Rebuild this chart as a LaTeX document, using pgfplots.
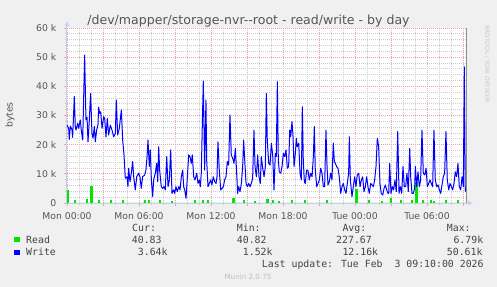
\documentclass[border=0pt]{standalone}
\usepackage{fontspec}
\setmainfont{DejaVu Sans}
\newfontfamily\monofont{DejaVu Sans Mono}
\usepackage{pgfplots}
\pgfplotsset{compat=1.18}
\usetikzlibrary{arrows.meta}
\definecolor{bgc}{HTML}{F0F0F0}
\definecolor{fontc}{HTML}{555555}
\definecolor{legc}{HTML}{444444}
\definecolor{axisc}{HTML}{C8CDF5}
\definecolor{mgrid}{HTML}{E4A8A8}
\definecolor{ngrid}{HTML}{CCCCCC}
\definecolor{readg}{HTML}{00E600}
\definecolor{writeb}{HTML}{0000FF}
\begin{document}
\begin{tikzpicture}
\useasboundingbox (-67bp,-84bp) rectangle (430bp,203bp);
\fill[bgc] (-67bp,-84bp) rectangle (430bp,203bp);
\begin{axis}[
  scale only axis, width=399bp, height=175bp,
  xmin=0, xmax=33.25, ymin=0, ymax=60,
  enlargelimits=false,
  axis background/.style={fill=white},
  axis x line=bottom, axis y line=left,
  x axis line style={color=axisc, line width=1bp, -{Latex[length=5bp,width=5bp]}, shorten >=-7bp},
  y axis line style={color=axisc, line width=1bp, -{Latex[length=5bp,width=5bp]}, shorten >=-7bp},
  xtick={0,3,...,33},
  xticklabels={Mon 00:00,,Mon 06:00,,Mon 12:00,,Mon 18:00,,Tue 00:00,,Tue 06:00,},
  ytick={0,10,...,60},
  yticklabels={0,10 k,20 k,30 k,40 k,50 k,60 k},
  minor x tick num=2, minor y tick num=4,
  grid=both,
  major grid style={color=mgrid, dash pattern=on 1bp off 1bp, line width=0.7bp},
  minor grid style={color=ngrid, dash pattern=on 1bp off 1bp, line width=0.7bp},
  tick align=outside,
  major tick length=3bp, minor tick length=2bp,
  major tick style={color=mgrid, line width=0.7bp},
  minor tick style={color=ngrid, line width=0.7bp},
  xticklabel style={font=\fontsize{9.3}{10}\selectfont, color=fontc, anchor=base, inner sep=0pt, yshift=-13.7bp},
  yticklabel style={font=\fontsize{9.3}{10}\selectfont, color=fontc, anchor=east, inner sep=0pt, xshift=-7.5bp},
  extra x ticks={33.25}, extra x tick labels={},
  extra x tick style={grid=major, major grid style={solid, color=black!45, line width=1bp}, major tick length=0pt},
  ylabel={bytes},
  every axis y label/.style={at={(axis description cs:-0.1429,0.503)}, rotate=90, anchor=center, font=\fontsize{9.3}{10}\selectfont, color=fontc},
  clip=true,
]
\addplot[const plot, fill=readg, draw=readg, line width=0.5bp] table {
x y
0.02 4.5
0.14 0.04
0.6 1.0
0.68 0.04
1.6 1.3
1.68 0.04
1.97 5.6
2.09 0.04
2.6 0.8
2.68 0.04
3.6 0.8
3.68 0.04
4.6 0.8
4.68 0.04
6.4 1.0
6.48 0.04
6.8 1.0
6.88 0.04
7.7 1.0
7.78 0.04
8.7 0.6
8.78 0.04
10.6 1.0
10.72 0.04
11.3 0.8
11.38 0.04
11.7 0.8
11.78 0.04
13.75 1.5
13.9 0.04
14.7 0.8
14.78 0.04
15.6 0.6
15.68 0.04
16.6 1.2
16.74 0.04
17.1 0.8
17.18 0.04
17.6 0.5
17.68 0.04
18.7 1.0
18.78 0.04
19.8 0.8
19.88 0.04
21.6 0.8
21.68 0.04
24.02 4.8
24.16 0.04
25.1 1.0
25.18 0.04
26.2 0.6
26.28 0.04
26.9 1.7
26.98 0.04
27.75 0.8
27.83 0.04
28.7 0.8
28.78 0.04
29.06 6.79
29.18 0.04
29.6 1.0
29.68 0.04
30.25 0.8
30.33 0.04
30.5 0.6
30.58 0.04
31.5 0.8
31.62 0.04
32.5 0.8
32.58 0.04
33.25 0.04
} \closedcycle;
\addplot[color=writeb, line width=1bp, line join=round] table {
x y
0 26.7
0.14 25.6
0.19 21.8
0.28 26.4
0.42 25.0
0.47 22.5
0.61 36.5
0.69 26.2
0.75 25.0
0.89 27.3
0.97 25.6
1.11 28.5
1.19 25.0
1.31 21.6
1.47 50.7
1.58 28.5
1.67 29.4
1.75 21.0
1.86 28.5
1.97 37.6
2.08 23.9
2.17 22.2
2.28 26.2
2.36 21.0
2.47 25.0
2.58 26.7
2.64 32.8
2.72 30.7
2.81 31.3
2.92 25.6
3.06 29.6
3.14 29.0
3.25 22.7
3.36 29.0
3.47 23.3
3.61 26.7
3.75 25.0
3.89 22.7
4.03 23.9
4.11 35.3
4.22 23.3
4.36 25.6
4.53 31.9
4.64 21.6
4.75 16.5
4.86 8.5
5.0 9.0
5.08 5.6
5.14 11.9
5.25 7.3
5.36 10.2
5.47 14.2
5.56 9.0
5.69 4.5
5.81 9.0
5.97 10.2
6.08 9.0
6.19 5.0
6.3 9.0
6.47 9.6
6.58 11.3
6.67 15.9
6.75 21.6
6.86 12.5
6.94 18.2
7.03 7.9
7.14 2.2
7.22 7.9
7.36 10.2
7.47 13.6
7.56 7.3
7.64 19.3
7.72 11.3
7.86 5.6
7.97 5.0
8.08 5.6
8.19 4.5
8.31 15.9
8.42 5.6
8.53 7.9
8.64 18.2
8.75 3.3
8.89 4.5
8.97 3.3
9.08 5.6
9.19 3.9
9.31 5.6
9.42 4.5
9.53 9.0
9.64 11.3
9.72 5.6
9.81 4.5
9.92 1.6
10.03 9.0
10.14 16.5
10.25 15.9
10.36 13.6
10.44 16.5
10.56 9.0
10.67 7.9
10.81 10.2
10.92 6.7
11.03 7.9
11.11 5.6
11.19 10.2
11.31 33.0
11.36 41.8
11.47 11.3
11.58 35.3
11.64 14.7
11.75 5.6
11.86 6.7
11.97 7.9
12.08 6.2
12.19 9.0
12.31 7.3
12.42 6.7
12.5 9.0
12.58 21.0
12.69 11.3
12.81 4.5
12.92 5.0
13.03 5.6
13.14 7.9
13.25 9.0
13.36 14.2
13.47 13.0
13.58 30.2
13.69 16.5
13.81 15.3
13.92 13.6
14.03 18.7
14.14 10.2
14.22 3.3
14.31 5.6
14.42 3.9
14.53 6.7
14.64 12.5
14.72 21.6
14.81 14.7
14.92 6.7
15.03 5.6
15.14 6.7
15.25 5.6
15.36 6.7
15.47 8.5
15.58 25.0
15.67 12.5
15.78 9.0
15.89 16.5
16.0 9.0
16.11 6.7
16.19 15.9
16.31 11.9
16.42 9.0
16.53 12.5
16.61 37.6
16.69 21.6
16.81 13.6
16.92 13.0
17.03 20.5
17.14 16.5
17.25 4.5
17.36 17.0
17.44 15.9
17.53 41.6
17.61 14.7
17.69 10.7
17.81 10.2
17.92 12.5
18.03 17.0
18.14 15.9
18.25 18.2
18.36 11.9
18.47 12.5
18.56 25.0
18.64 22.7
18.75 27.9
18.83 23.3
18.92 12.5
19.03 17.0
19.11 22.2
19.19 19.3
19.31 20.5
19.42 10.2
19.53 7.9
19.61 33.0
19.69 14.7
19.78 7.3
19.86 6.7
19.97 11.3
20.08 11.3
20.19 7.9
20.31 10.2
20.42 9.0
20.53 15.9
20.61 26.2
20.69 11.3
20.81 5.6
20.92 6.7
21.03 7.9
21.14 11.9
21.25 10.2
21.36 5.6
21.47 5.6
21.58 25.0
21.67 12.5
21.75 6.2
21.86 7.3
21.97 10.2
22.08 7.9
22.19 20.5
22.28 14.2
22.36 13.6
22.47 12.5
22.58 11.9
22.69 9.0
22.81 3.3
22.92 5.6
23.03 6.7
23.14 4.5
23.25 3.3
23.36 6.7
23.47 10.2
23.53 22.7
23.61 7.9
23.75 2.2
23.86 5.6
23.97 9.0
24.08 5.6
24.19 9.6
24.31 10.2
24.42 5.6
24.53 7.9
24.64 9.0
24.75 3.9
24.86 5.6
24.97 9.0
25.08 5.6
25.19 3.3
25.31 6.7
25.42 6.2
25.53 5.6
25.64 7.9
25.75 12.5
25.86 22.2
25.97 19.3
26.08 6.7
26.19 3.3
26.31 2.7
26.42 5.0
26.53 6.2
26.64 4.5
26.75 3.3
26.81 3.3
26.89 13.6
27.0 3.3
27.11 5.6
27.22 4.5
27.33 7.9
27.44 3.9
27.56 24.5
27.67 3.3
27.78 5.6
27.89 3.3
28.0 12.5
28.11 5.6
28.22 5.6
28.33 10.2
28.44 3.9
28.56 18.7
28.64 9.0
28.75 3.3
28.86 3.3
28.97 5.0
29.03 12.5
29.14 5.6
29.25 10.7
29.36 5.6
29.47 7.9
29.58 25.0
29.69 10.2
29.81 9.6
29.92 11.9
30.03 5.6
30.14 6.7
30.25 7.9
30.36 6.7
30.47 5.6
30.58 25.0
30.69 7.9
30.81 5.6
30.92 6.2
31.03 4.5
31.14 3.3
31.25 6.2
31.36 9.0
31.47 10.2
31.58 24.5
31.69 7.9
31.81 4.5
31.92 6.7
32.03 5.6
32.14 4.5
32.25 6.7
32.36 10.7
32.47 9.0
32.58 13.6
32.69 5.6
32.81 4.5
32.92 9.0
33.03 5.6
33.11 46.7
33.19 3.9
};
\end{axis}
% title and side texts
\node[anchor=base, inner sep=0pt, font=\fontsize{12.6}{14}\selectfont, text=fontc] at (181.5bp,178.7bp) {/dev/mapper/storage-nvr{-}{-}root - read/write - by day};
\node[anchor=west, rotate=-90, inner sep=0pt, font=\fontsize{6}{7}\selectfont, text=black!22] at (420bp,178bp) {RRDTOOL / TOBI OETIKER};
% legend
\begin{scope}[every node/.style={anchor=base west, inner sep=0pt, font=\monofont\fontsize{9.9}{11}\selectfont, text=legc}]
\node at (65bp,-28bp) {Cur:};
\node at (169.7bp,-28bp) {Min:};
\node at (275.3bp,-28bp) {Avg:};
\node at (379.7bp,-28bp) {Max:};
\node at (-53bp,-40.3bp) {\textcolor{readg}{\rule[1bp]{5.5bp}{5.5bp}}};
\node at (-41bp,-40.3bp) {Read};
\node at (64.7bp,-40.3bp) {40.83};
\node at (169.7bp,-40.3bp) {40.82};
\node at (269bp,-40.3bp) {227.67};
\node at (386.3bp,-40.3bp) {6.79k};
\node at (-53bp,-52bp) {\textcolor{writeb}{\rule[0bp]{5.5bp}{5.5bp}}};
\node at (-41bp,-52bp) {Write};
\node at (70.7bp,-52bp) {3.64k};
\node at (175.7bp,-52bp) {1.52k};
\node at (275.3bp,-52bp) {12.16k};
\node at (379.7bp,-52bp) {50.61k};
\node at (194.7bp,-64bp) {Last update: Tue Feb\ \ 3 09:10:00 2026};
\end{scope}
\node[anchor=base, inner sep=0pt, font=\fontsize{7.2}{8}\selectfont, text=black!25] at (181bp,-76bp) {Munin 2.0.75};
\end{tikzpicture}
\end{document}
